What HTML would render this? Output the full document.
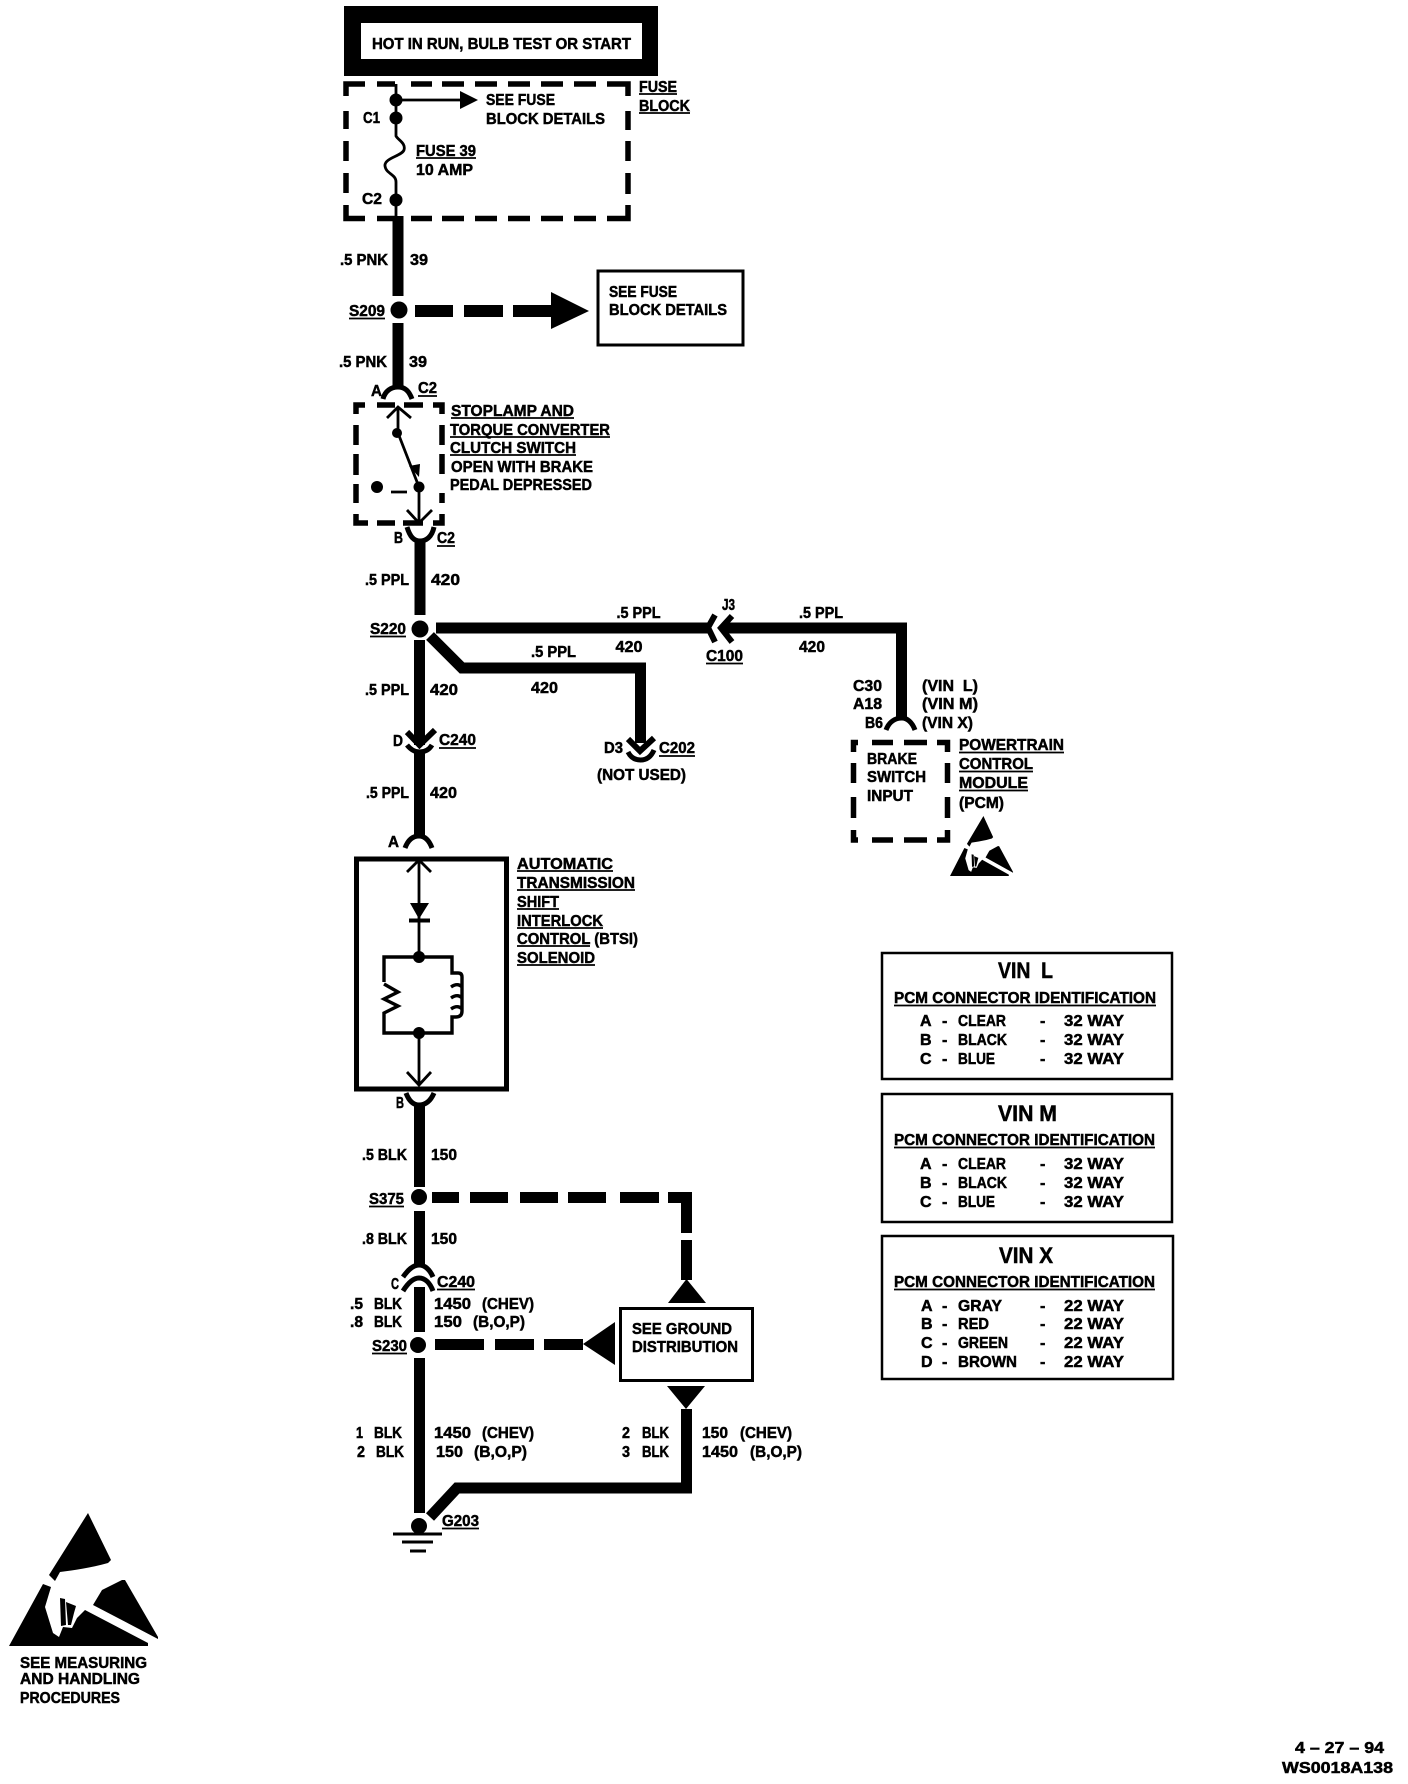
<!DOCTYPE html>
<html><head><meta charset="utf-8"><style>
html,body{margin:0;padding:0;background:#fff}
svg{display:block}
text{font-family:"Liberation Sans",sans-serif;font-weight:bold;font-size:16px;fill:#000;stroke:#000;stroke-width:.5}
.w{fill:none;stroke:#000;stroke-width:11}
.d{fill:none;stroke:#000;stroke-width:5.5}
.t{fill:none;stroke:#000;stroke-width:2.8}
.s{fill:none;stroke:#000;stroke-width:3.4}
.c{fill:none;stroke:#000;stroke-width:5}
.b{fill:none;stroke:#000;stroke-width:3}
.u{fill:none;stroke:#000;stroke-width:1.8}
</style></head><body>
<svg xmlns="http://www.w3.org/2000/svg" width="1408" height="1784" viewBox="0 0 1408 1784">
<defs>
<g id="esd">
<path d="M88 1513L111 1560L108 1563C90 1568 75 1570 60 1572L55 1581L49 1575Z"/>
<path d="M122 1580L125 1580L158 1637L158 1639L93 1605L102 1590Z"/>
<path d="M43 1584L51 1587L45 1607L53 1633L59 1637L63 1627L72 1628L77 1618L85 1610L148 1643L148 1646L9 1646Z"/>
<path d="M60 1598L65 1599L66 1625L61 1626Z"/>
<path d="M66 1602L76 1606L74 1613L71 1625L68 1625Z"/>
</g>
</defs>

<!-- header -->
<path d="M344 6H658V76H344Z M361 23V59H642V23Z" fill-rule="evenodd"/>
<text x="372" y="49" textLength="259" lengthAdjust="spacingAndGlyphs">HOT IN RUN, BULB TEST OR START</text>

<!-- fuse block -->
<path class="d" d="M346 96V84H365M377 84H395M411 84H432M442 84H464M475 84H497M508 84H530M541 84H563M574 84H596M607 84H628V96M346 111V129M346 141V161M346 173V193M346 205V218.500H365M377 218.500H395M411 218.500H432M442 218.500H464M475 218.500H497M508 218.500H530M541 218.500H563M574 218.500H596M607 218.500H628V205M628 111V130M628 141V161M628 173V194"/>
<path class="t" d="M396 84V136C398 140 406 143 404 150C402 156 384 158 385 166C386 174 396 174 396 182V218"/>
<path class="t" d="M396 100H462"/>
<path d="M460 91L478 100L460 109Z"/>
<circle cx="396" cy="100" r="6.500"/><circle cx="396" cy="118" r="6.500"/><circle cx="396" cy="200" r="6.500"/>
<text x="639" y="92" textLength="38" lengthAdjust="spacingAndGlyphs">FUSE</text>
<text x="639" y="111" textLength="51" lengthAdjust="spacingAndGlyphs">BLOCK</text>
<text x="486" y="105" textLength="69" lengthAdjust="spacingAndGlyphs">SEE FUSE</text>
<text x="486" y="124" textLength="119" lengthAdjust="spacingAndGlyphs">BLOCK DETAILS</text>
<text x="363" y="123" textLength="17" lengthAdjust="spacingAndGlyphs">C1</text>
<text x="362" y="204" textLength="20" lengthAdjust="spacingAndGlyphs">C2</text>
<text x="416" y="156" textLength="60" lengthAdjust="spacingAndGlyphs">FUSE 39</text>
<text x="416" y="175" textLength="57" lengthAdjust="spacingAndGlyphs">10 AMP</text>

<!-- wires top -->
<path class="w" d="M398 216V296M398 323V387"/>
<circle cx="399" cy="310" r="8.500"/>
<path class="w" d="M415 311H453M464 311H503M513 311H552" style="stroke-width:12"/>
<path d="M551 292L589 311L551 329Z"/>
<rect x="598" y="271" width="145" height="74" fill="#fff" stroke="#000" stroke-width="3"/>
<text x="609" y="297" textLength="68" lengthAdjust="spacingAndGlyphs">SEE FUSE</text>
<text x="609" y="315" textLength="118" lengthAdjust="spacingAndGlyphs">BLOCK DETAILS</text>
<text x="340" y="265" textLength="48" lengthAdjust="spacingAndGlyphs">.5 PNK</text>
<text x="410" y="265" textLength="18" lengthAdjust="spacingAndGlyphs">39</text>
<text x="349" y="316" textLength="36" lengthAdjust="spacingAndGlyphs">S209</text>
<text x="339" y="367" textLength="48" lengthAdjust="spacingAndGlyphs">.5 PNK</text>
<text x="409" y="367" textLength="18" lengthAdjust="spacingAndGlyphs">39</text>
<text x="371" y="396" textLength="11" lengthAdjust="spacingAndGlyphs">A</text>
<text x="418" y="393" textLength="19" lengthAdjust="spacingAndGlyphs">C2</text>
<path class="c" d="M383 399C385 391 391 387 398 387C405 387 409 391 412 399"/>

<!-- switch -->
<path class="d" d="M356 414V405H365M377 405H395M404 405H423M433 405H442V414M356 425V445M356 454V475M356 484V503M356 514V523H368M377 523H395M403 523H423M433 523H442V514M442 425V445M442 454V474M442 493V503"/>
<path class="t" d="M387 418L398 407L411 418M398 407V433L419 487V523M407 510L419 523L432 510M391 492H407"/>
<path d="M409 466L420 464L419 477Z"/>
<circle cx="397" cy="433" r="5"/><circle cx="419" cy="487" r="5.500"/><circle cx="377" cy="487" r="6"/>
<path class="c" d="M407 527C410 537 414 541 420 541C426 541 432 537 434 527"/>
<text x="451" y="416" textLength="123" lengthAdjust="spacingAndGlyphs">STOPLAMP AND</text>
<text x="450" y="435" textLength="160" lengthAdjust="spacingAndGlyphs">TORQUE CONVERTER</text>
<text x="450" y="453" textLength="126" lengthAdjust="spacingAndGlyphs">CLUTCH SWITCH</text>
<text x="451" y="472" textLength="142" lengthAdjust="spacingAndGlyphs">OPEN WITH BRAKE</text>
<text x="450" y="490" textLength="142" lengthAdjust="spacingAndGlyphs">PEDAL DEPRESSED</text>
<text x="394" y="543" textLength="9" lengthAdjust="spacingAndGlyphs">B</text>
<text x="437" y="543" textLength="18" lengthAdjust="spacingAndGlyphs">C2</text>

<!-- S220 -->
<path class="w" d="M420 541V615M436 628H708M723 628H901.500V718M430 636L462 668H640.500V743M419.500 640V745M419.500 753V836"/>
<circle cx="420" cy="629" r="8.500"/>
<path d="M715 615L708 627.500L715 642" fill="none" stroke="#000" stroke-width="6"/>
<path d="M732 616L721 628L732 642" fill="none" stroke="#000" stroke-width="6"/>
<path fill="none" stroke="#000" stroke-width="6" d="M407 732L419.500 745L435 730"/>
<path class="c" d="M407 745C411 750 415 752 419.500 752C425 752 429 750 432 745"/>
<path fill="none" stroke="#000" stroke-width="6" d="M628 739L640 751L654 738"/>
<path class="c" d="M628 752C631 758 636 760 640.500 760C646 760 651 757 654 750"/>
<path class="c" d="M886 730C889 722 895 718 902 718C907 718 912 722 915 730"/>
<text x="365" y="585" textLength="44" lengthAdjust="spacingAndGlyphs">.5 PPL</text>
<text x="431" y="585" textLength="29" lengthAdjust="spacingAndGlyphs">420</text>
<text x="370" y="634" textLength="36" lengthAdjust="spacingAndGlyphs">S220</text>
<text x="722" y="610" textLength="13" lengthAdjust="spacingAndGlyphs">J3</text>
<text x="616.500" y="618" textLength="44" lengthAdjust="spacingAndGlyphs">.5 PPL</text>
<text x="615.500" y="652" textLength="27" lengthAdjust="spacingAndGlyphs">420</text>
<text x="706" y="661" textLength="37" lengthAdjust="spacingAndGlyphs">C100</text>
<text x="799" y="618" textLength="44" lengthAdjust="spacingAndGlyphs">.5 PPL</text>
<text x="799" y="652" textLength="26" lengthAdjust="spacingAndGlyphs">420</text>
<text x="853" y="691" textLength="29" lengthAdjust="spacingAndGlyphs">C30</text>
<text x="853" y="709" textLength="29" lengthAdjust="spacingAndGlyphs">A18</text>
<text x="865" y="728" textLength="18" lengthAdjust="spacingAndGlyphs">B6</text>
<text x="922" y="691" textLength="56" lengthAdjust="spacingAndGlyphs" xml:space="preserve">(VIN  L)</text>
<text x="922" y="709" textLength="56" lengthAdjust="spacingAndGlyphs">(VIN M)</text>
<text x="922" y="728" textLength="51" lengthAdjust="spacingAndGlyphs">(VIN X)</text>
<text x="531" y="657" textLength="45" lengthAdjust="spacingAndGlyphs">.5 PPL</text>
<text x="531" y="693" textLength="27" lengthAdjust="spacingAndGlyphs">420</text>
<text x="365" y="695" textLength="44" lengthAdjust="spacingAndGlyphs">.5 PPL</text>
<text x="430" y="695" textLength="28" lengthAdjust="spacingAndGlyphs">420</text>
<text x="393" y="746" textLength="10" lengthAdjust="spacingAndGlyphs">D</text>
<text x="439" y="745" textLength="37" lengthAdjust="spacingAndGlyphs">C240</text>
<text x="604" y="753" textLength="19" lengthAdjust="spacingAndGlyphs">D3</text>
<text x="659" y="753" textLength="36" lengthAdjust="spacingAndGlyphs">C202</text>
<text x="597" y="780" textLength="89" lengthAdjust="spacingAndGlyphs">(NOT USED)</text>
<text x="366" y="798" textLength="43" lengthAdjust="spacingAndGlyphs">.5 PPL</text>
<text x="430" y="798" textLength="27" lengthAdjust="spacingAndGlyphs">420</text>

<!-- PCM -->
<path class="d" d="M853.500 752V742.500H858M872 742.500H893M904 742.500H927M937 742.500H947.500V752M853.500 763V783M853.500 797V818M853.500 830V840H858M872 840H893M904 840H927M937 840H947.500V830M947.500 763V783M947.500 797V818"/>
<text x="867" y="764" textLength="50" lengthAdjust="spacingAndGlyphs">BRAKE</text>
<text x="867" y="782" textLength="59" lengthAdjust="spacingAndGlyphs">SWITCH</text>
<text x="867" y="801" textLength="46" lengthAdjust="spacingAndGlyphs">INPUT</text>
<text x="959" y="750" textLength="105" lengthAdjust="spacingAndGlyphs">POWERTRAIN</text>
<text x="959" y="769" textLength="74" lengthAdjust="spacingAndGlyphs">CONTROL</text>
<text x="959" y="788" textLength="69" lengthAdjust="spacingAndGlyphs">MODULE</text>
<text x="959" y="808" textLength="45" lengthAdjust="spacingAndGlyphs">(PCM)</text>
<use href="#esd" transform="translate(946.2,133.6) scale(.423,.451)"/>

<!-- solenoid -->
<rect x="356.500" y="859" width="150" height="230" fill="none" stroke="#000" stroke-width="5"/>
<path class="c" d="M405 848C408 840 413 836 419 836C425 836 429 840 432 848"/>
<text x="388" y="847" textLength="11" lengthAdjust="spacingAndGlyphs">A</text>
<path class="t" d="M407 872L419 860L431 872M419 860V957M419 1033V1085M407 1072L419 1085L431 1072"/>
<path class="s" d="M384 982V957H452V973H458Q462 973 462 977V1011Q462 1017 456 1017H452V1033H384V1013L398 1006L384 999L398 992L384 984M462 987C458 983 454 985 451 987M462 998C458 994 454 996 451 998M462 1009C458 1005 454 1007 451 1009"/>
<path d="M410 903H429L419 919Z"/>
<rect x="409" y="918.500" width="21" height="4"/>
<circle cx="419" cy="957" r="6"/><circle cx="419" cy="1033" r="6"/>
<text x="517" y="869" textLength="96" lengthAdjust="spacingAndGlyphs">AUTOMATIC</text>
<text x="517" y="888" textLength="118" lengthAdjust="spacingAndGlyphs">TRANSMISSION</text>
<text x="517" y="907" textLength="42" lengthAdjust="spacingAndGlyphs">SHIFT</text>
<text x="517" y="926" textLength="86" lengthAdjust="spacingAndGlyphs">INTERLOCK</text>
<text x="517" y="944" textLength="121" lengthAdjust="spacingAndGlyphs">CONTROL (BTSI)</text>
<text x="517" y="963" textLength="78" lengthAdjust="spacingAndGlyphs">SOLENOID</text>

<!-- lower -->
<path class="c" d="M406 1093C409 1101 413 1105 419 1105C426 1105 431 1100 434 1093"/>
<path class="w" d="M419.500 1105V1187M419.500 1211V1267M419.500 1287V1332M419.500 1358V1513M686.500 1409V1488H457L430 1517"/>
<circle cx="419" cy="1197" r="8"/><circle cx="418" cy="1345" r="8"/><circle cx="419" cy="1526" r="8"/>
<path class="w" d="M432 1197.500H459M470 1197.500H508M520 1197.500H558M568 1197.500H606M620 1197.500H659M668 1197.500H686.500V1233M686.500 1240V1280M435 1344.500H484M495 1344.500H534M544 1344.500H583"/>
<path d="M686.500 1279L706 1303H668ZM583 1344L615 1322V1365ZM667 1386H705L686 1409Z"/>
<rect x="620.500" y="1308.500" width="132" height="72" fill="#fff" stroke="#000" stroke-width="3"/>
<path class="c" d="M403 1277C408 1270 413 1265 419 1265C425 1265 430 1270 433 1277"/>
<path class="c" d="M403 1291C408 1283 413 1278 419 1278C425 1278 430 1283 433 1291"/>
<path class="b" d="M393 1534H442M402 1542H433"/><path class="b" d="M410 1551H426"/>
<text x="396" y="1108" textLength="8" lengthAdjust="spacingAndGlyphs">B</text>
<text x="362" y="1160" textLength="45" lengthAdjust="spacingAndGlyphs">.5 BLK</text>
<text x="431" y="1160" textLength="26" lengthAdjust="spacingAndGlyphs">150</text>
<text x="369" y="1204" textLength="35" lengthAdjust="spacingAndGlyphs">S375</text>
<text x="362" y="1244" textLength="45" lengthAdjust="spacingAndGlyphs">.8 BLK</text>
<text x="431" y="1244" textLength="26" lengthAdjust="spacingAndGlyphs">150</text>
<text x="391" y="1289" textLength="8" lengthAdjust="spacingAndGlyphs">C</text>
<text x="437" y="1287" textLength="38" lengthAdjust="spacingAndGlyphs">C240</text>
<text x="350" y="1309" textLength="13" lengthAdjust="spacingAndGlyphs">.5</text>
<text x="374" y="1309" textLength="28" lengthAdjust="spacingAndGlyphs">BLK</text>
<text x="350" y="1327" textLength="13" lengthAdjust="spacingAndGlyphs">.8</text>
<text x="374" y="1327" textLength="28" lengthAdjust="spacingAndGlyphs">BLK</text>
<text x="434" y="1309" textLength="37" lengthAdjust="spacingAndGlyphs">1450</text>
<text x="482" y="1309" textLength="52" lengthAdjust="spacingAndGlyphs">(CHEV)</text>
<text x="434" y="1327" textLength="28" lengthAdjust="spacingAndGlyphs">150</text>
<text x="473" y="1327" textLength="52" lengthAdjust="spacingAndGlyphs">(B,O,P)</text>
<text x="372" y="1351" textLength="35" lengthAdjust="spacingAndGlyphs">S230</text>
<text x="632" y="1334" textLength="100" lengthAdjust="spacingAndGlyphs">SEE GROUND</text>
<text x="632" y="1352" textLength="106" lengthAdjust="spacingAndGlyphs">DISTRIBUTION</text>
<text x="356" y="1438" textLength="7" lengthAdjust="spacingAndGlyphs">1</text>
<text x="374" y="1438" textLength="28" lengthAdjust="spacingAndGlyphs">BLK</text>
<text x="357" y="1457" textLength="8" lengthAdjust="spacingAndGlyphs">2</text>
<text x="376" y="1457" textLength="28" lengthAdjust="spacingAndGlyphs">BLK</text>
<text x="434" y="1438" textLength="37" lengthAdjust="spacingAndGlyphs">1450</text>
<text x="482" y="1438" textLength="52" lengthAdjust="spacingAndGlyphs">(CHEV)</text>
<text x="436" y="1457" textLength="27" lengthAdjust="spacingAndGlyphs">150</text>
<text x="474" y="1457" textLength="53" lengthAdjust="spacingAndGlyphs">(B,O,P)</text>
<text x="622" y="1438" textLength="8" lengthAdjust="spacingAndGlyphs">2</text>
<text x="642" y="1438" textLength="27" lengthAdjust="spacingAndGlyphs">BLK</text>
<text x="622" y="1457" textLength="8" lengthAdjust="spacingAndGlyphs">3</text>
<text x="642" y="1457" textLength="27" lengthAdjust="spacingAndGlyphs">BLK</text>
<text x="702" y="1438" textLength="26" lengthAdjust="spacingAndGlyphs">150</text>
<text x="740" y="1438" textLength="52" lengthAdjust="spacingAndGlyphs">(CHEV)</text>
<text x="702" y="1457" textLength="36" lengthAdjust="spacingAndGlyphs">1450</text>
<text x="750" y="1457" textLength="52" lengthAdjust="spacingAndGlyphs">(B,O,P)</text>
<text x="442" y="1526" textLength="37" lengthAdjust="spacingAndGlyphs">G203</text>

<!-- VIN tables -->
<rect x="882" y="953" width="290" height="126" fill="none" stroke="#000" stroke-width="2.500"/>
<rect x="882" y="1094" width="290" height="128" fill="none" stroke="#000" stroke-width="2.500"/>
<rect x="882" y="1236" width="291" height="143" fill="none" stroke="#000" stroke-width="2.500"/>

<text x="998" y="978" textLength="55" lengthAdjust="spacingAndGlyphs" style="font-size:22px" xml:space="preserve">VIN  L</text>
<text x="894" y="1003" textLength="262" lengthAdjust="spacingAndGlyphs">PCM CONNECTOR IDENTIFICATION</text>
<text x="920" y="1026">A</text><text x="942" y="1026">-</text><text x="958" y="1026" textLength="48" lengthAdjust="spacingAndGlyphs">CLEAR</text><text x="1040" y="1026">-</text><text x="1064" y="1026" textLength="60" lengthAdjust="spacingAndGlyphs">32 WAY</text>
<text x="920" y="1045">B</text><text x="942" y="1045">-</text><text x="958" y="1045" textLength="49" lengthAdjust="spacingAndGlyphs">BLACK</text><text x="1040" y="1045">-</text><text x="1064" y="1045" textLength="60" lengthAdjust="spacingAndGlyphs">32 WAY</text>
<text x="920" y="1064">C</text><text x="942" y="1064">-</text><text x="958" y="1064" textLength="37" lengthAdjust="spacingAndGlyphs">BLUE</text><text x="1040" y="1064">-</text><text x="1064" y="1064" textLength="60" lengthAdjust="spacingAndGlyphs">32 WAY</text>

<text x="998" y="1121" textLength="59" lengthAdjust="spacingAndGlyphs" style="font-size:22px">VIN M</text>
<text x="894" y="1145" textLength="261" lengthAdjust="spacingAndGlyphs">PCM CONNECTOR IDENTIFICATION</text>
<text x="920" y="1169">A</text><text x="942" y="1169">-</text><text x="958" y="1169" textLength="48" lengthAdjust="spacingAndGlyphs">CLEAR</text><text x="1040" y="1169">-</text><text x="1064" y="1169" textLength="60" lengthAdjust="spacingAndGlyphs">32 WAY</text>
<text x="920" y="1188">B</text><text x="942" y="1188">-</text><text x="958" y="1188" textLength="49" lengthAdjust="spacingAndGlyphs">BLACK</text><text x="1040" y="1188">-</text><text x="1064" y="1188" textLength="60" lengthAdjust="spacingAndGlyphs">32 WAY</text>
<text x="920" y="1207">C</text><text x="942" y="1207">-</text><text x="958" y="1207" textLength="37" lengthAdjust="spacingAndGlyphs">BLUE</text><text x="1040" y="1207">-</text><text x="1064" y="1207" textLength="60" lengthAdjust="spacingAndGlyphs">32 WAY</text>

<text x="999" y="1263" textLength="54" lengthAdjust="spacingAndGlyphs" style="font-size:22px">VIN X</text>
<text x="894" y="1287" textLength="261" lengthAdjust="spacingAndGlyphs">PCM CONNECTOR IDENTIFICATION</text>
<text x="921" y="1311">A</text><text x="942" y="1311">-</text><text x="958" y="1311" textLength="44" lengthAdjust="spacingAndGlyphs">GRAY</text><text x="1040" y="1311">-</text><text x="1064" y="1311" textLength="60" lengthAdjust="spacingAndGlyphs">22 WAY</text>
<text x="921" y="1329">B</text><text x="942" y="1329">-</text><text x="958" y="1329" textLength="31" lengthAdjust="spacingAndGlyphs">RED</text><text x="1040" y="1329">-</text><text x="1064" y="1329" textLength="60" lengthAdjust="spacingAndGlyphs">22 WAY</text>
<text x="921" y="1348">C</text><text x="942" y="1348">-</text><text x="958" y="1348" textLength="50" lengthAdjust="spacingAndGlyphs">GREEN</text><text x="1040" y="1348">-</text><text x="1064" y="1348" textLength="60" lengthAdjust="spacingAndGlyphs">22 WAY</text>
<text x="921" y="1367">D</text><text x="942" y="1367">-</text><text x="958" y="1367" textLength="59" lengthAdjust="spacingAndGlyphs">BROWN</text><text x="1040" y="1367">-</text><text x="1064" y="1367" textLength="60" lengthAdjust="spacingAndGlyphs">22 WAY</text>

<!-- underlines -->
<path class="u" d="M639 94H677M639 113H690M416 158H476M349 318.500H385M418 396H437M451 418H574M450 437H610M450 455H576M437 546H455M370 636.500H406M706 663.500H743M439 748H476M659 756H695M959 752.500H1064M959 771.500H1033M959 790.500H1028M517 871H613M517 890H635M517 909H559M517 928H603M517 946H590M517 965H595M369 1206.500H404M437 1289.500H475M372 1353.500H407M442 1528.500H479M894 1005.500H1156M894 1147.500H1155M894 1289.500H1155"/>

<!-- big ESD -->
<use href="#esd"/>
<text x="20" y="1668" textLength="127" lengthAdjust="spacingAndGlyphs">SEE MEASURING</text>
<text x="20" y="1684" textLength="120" lengthAdjust="spacingAndGlyphs">AND HANDLING</text>
<text x="20" y="1703" textLength="100" lengthAdjust="spacingAndGlyphs">PROCEDURES</text>

<text x="1295" y="1753" textLength="89" lengthAdjust="spacingAndGlyphs">4 – 27 – 94</text>
<text x="1282" y="1773" textLength="111" lengthAdjust="spacingAndGlyphs">WS0018A138</text>
</svg>
</body></html>
